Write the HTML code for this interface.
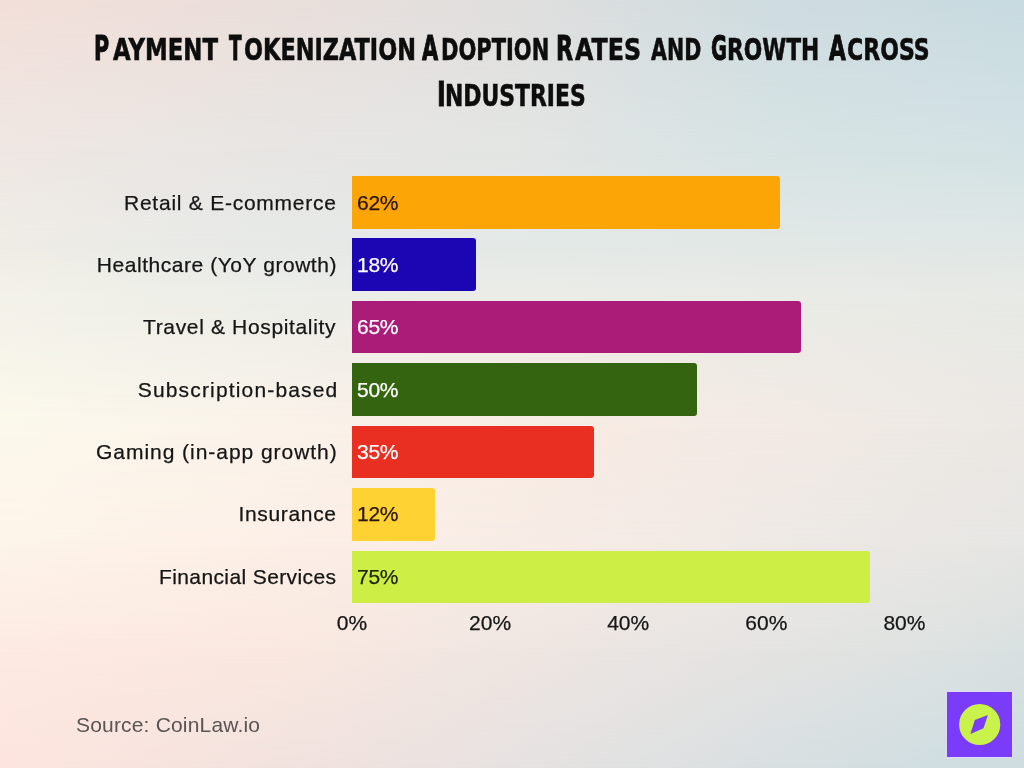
<!DOCTYPE html>
<html lang="en">
<head>
<meta charset="utf-8">
<title>Payment Tokenization Adoption Rates and Growth Across Industries</title>
<style>
  html, body { margin: 0; padding: 0; }
  body { width: 1024px; height: 768px; overflow: hidden; position: relative;
         font-family: "Liberation Sans", sans-serif; color: #111; }
  .bg, .bg div { position: absolute; left: 0; top: 0; width: 1024px; height: 768px; }
  .bg .r0 { background: linear-gradient(90deg, #f3dfd9 0px, #ebdfdb 256px, #e0dfde 512px, #cfdce0 768px, #c8dbe1 1024px); }
  .bg .r1 { background: linear-gradient(90deg, #efe7e3 0px, #e8e6e3 256px, #e3e5e3 512px, #d7e3e4 768px, #d3e2e4 1024px); -webkit-mask-image: linear-gradient(180deg, transparent 0px, #000 150px); mask-image: linear-gradient(180deg, transparent 0px, #000 150px); }
  .bg .r2 { background: linear-gradient(90deg, #efece6 0px, #e9eae6 176px, #e6e9e7 340px, #e3e9e7 512px, #e1e8e6 768px, #e0e7e6 1024px); -webkit-mask-image: linear-gradient(180deg, transparent 150px, #000 240px); mask-image: linear-gradient(180deg, transparent 150px, #000 240px); }
  .bg .r3 { background: linear-gradient(90deg, #f3f2e9 0px, #eeefe8 176px, #ecede8 340px, #ecece6 512px, #eaebe6 768px, #e8eae5 1024px); -webkit-mask-image: linear-gradient(180deg, transparent 240px, #000 300px); mask-image: linear-gradient(180deg, transparent 240px, #000 300px); }
  .bg .r4 { background: linear-gradient(90deg, #fcf8ec 0px, #fbf5eb 176px, #faf1e8 340px, #f9ede4 512px, #f7ebe3 600px, #f3eae5 768px, #ebe8e4 1024px); -webkit-mask-image: linear-gradient(180deg, transparent 300px, #000 430px); mask-image: linear-gradient(180deg, transparent 300px, #000 430px); }
  .bg .r5 { background: linear-gradient(90deg, #fdf4ea 0px, #fdf1e8 176px, #fbeee6 340px, #f5ebe5 600px, #eee9e5 768px, #e6e6e3 1024px); -webkit-mask-image: linear-gradient(180deg, transparent 430px, #000 546px); mask-image: linear-gradient(180deg, transparent 430px, #000 546px); }
  .bg .r6 { background: linear-gradient(90deg, #fdeae2 0px, #fae8e0 280px, #ebe5e2 610px, #dde2e1 940px, #d9e0e0 1024px); -webkit-mask-image: linear-gradient(180deg, transparent 546px, #000 650px); mask-image: linear-gradient(180deg, transparent 546px, #000 650px); }
  .bg .r7 { background: linear-gradient(90deg, #fde4de 0px, #f2e2de 280px, #e1e1e1 610px, #cfdde1 940px, #cedce0 1024px); -webkit-mask-image: linear-gradient(180deg, transparent 650px, #000 768px); mask-image: linear-gradient(180deg, transparent 650px, #000 768px); }

  .title { position: absolute; left: 0; top: 0; width: 1024px; height: 130px; margin: 0; font-weight: bold;
            font-family: "DejaVu Sans", "Liberation Sans", sans-serif; font-size: 34.29px; }
  .title span { position: absolute; white-space: nowrap; line-height: 40px; transform-origin: 0 0;
              color: #0d0d0d; }
  .title .C { font-size: 34.29px; -webkit-text-stroke: 1.0px #0d0d0d; }
  .title .S { font-size: 30.45px; text-transform: uppercase; -webkit-text-stroke: 0.6px #0d0d0d; }

  .bar { position: absolute; left: 352px; height: 52.6px; border-radius: 0 3px 3px 0; }
  .val { position: absolute; left: 357px; font-size: 21px; line-height: 24px; white-space: nowrap; letter-spacing: -0.3px; -webkit-text-stroke: 0.25px; }
  .lab { position: absolute; font-size: 21px; line-height: 24px; white-space: nowrap; color: #161616; -webkit-text-stroke: 0.25px #161616; }
  .tick { position: absolute; top: 611px; width: 80px; margin-left: -40px; text-align: center;
          font-size: 21px; line-height: 24px; color: #161616; -webkit-text-stroke: 0.25px #161616; }
  .source { position: absolute; left: 76px; top: 712.9px; font-size: 21px; line-height: 24px; color: #5a5452; letter-spacing: 0.18px; }
  .logo { position: absolute; left: 947px; top: 692px; width: 65px; height: 65px; box-shadow: 0 0 0 1px rgba(224,216,250,0.75); }
</style>
</head>
<body>
<div class="bg"><div class="r0"></div><div class="r1"></div><div class="r2"></div><div class="r3"></div><div class="r4"></div><div class="r5"></div><div class="r6"></div><div class="r7"></div></div>

<h1 class="title">
<span class="C" style="left:93.84px;top:27.80px;transform:scaleX(0.6047)">P</span><span class="S" style="left:112.79px;top:30.05px;transform:scaleX(0.7502)">ayment </span>
<span class="C" style="left:228.73px;top:27.80px;transform:scaleX(0.5375)">T</span><span class="S" style="left:243.68px;top:30.05px;transform:scaleX(0.7357)">okenization </span>
<span class="C" style="left:422.41px;top:27.80px;transform:scaleX(0.6109)">A</span><span class="S" style="left:440.57px;top:30.05px;transform:scaleX(0.6901)">doption </span>
<span class="C" style="left:556.33px;top:27.80px;transform:scaleX(0.6442)">R</span><span class="S" style="left:575.20px;top:30.05px;transform:scaleX(0.7807)">ates </span>
<span class="S" style="left:650.67px;top:30.05px;transform:scaleX(0.6758)">and </span>
<span class="C" style="left:710.99px;top:27.80px;transform:scaleX(0.5697)">G</span><span class="S" style="left:726.81px;top:30.05px;transform:scaleX(0.7145)">rowth </span>
<span class="C" style="left:828.72px;top:27.80px;transform:scaleX(0.6327)">A</span><span class="S" style="left:847.19px;top:30.05px;transform:scaleX(0.7243)">cross </span>
<span class="C" style="left:437.20px;top:74.10px;transform:scaleX(0.6897)">I</span><span class="S" style="left:445.30px;top:76.35px;transform:scaleX(0.7195)">ndustries </span>
</h1>

<div class="bar" style="top:176.00px;width:428.1px;background:#fca506"></div>
<div class="bar" style="top:238.45px;width:124.3px;background:#1c05b3"></div>
<div class="bar" style="top:300.90px;width:448.8px;background:#ab1c79"></div>
<div class="bar" style="top:363.35px;width:345.2px;background:#346410"></div>
<div class="bar" style="top:425.80px;width:241.7px;background:#e82f22"></div>
<div class="bar" style="top:488.25px;width:82.9px;background:#fed233"></div>
<div class="bar" style="top:550.70px;width:517.9px;background:#ccee45"></div>

<div class="lab" style="left:124.00px;top:190.70px;letter-spacing:0.756px">Retail &amp; E-commerce</div>
<div class="lab" style="left:96.75px;top:253.00px;letter-spacing:0.550px">Healthcare (YoY growth)</div>
<div class="lab" style="left:143.00px;top:315.30px;letter-spacing:0.651px">Travel &amp; Hospitality</div>
<div class="lab" style="left:137.75px;top:377.60px;letter-spacing:1.160px">Subscription-based</div>
<div class="lab" style="left:96.00px;top:439.90px;letter-spacing:0.960px">Gaming (in-app growth)</div>
<div class="lab" style="left:238.50px;top:502.20px;letter-spacing:0.659px">Insurance</div>
<div class="lab" style="left:159.00px;top:564.50px;letter-spacing:0.388px">Financial Services</div>

<div class="val" style="top:190.70px;color:#2a1606">62%</div>
<div class="val" style="top:253.00px;color:#fff">18%</div>
<div class="val" style="top:315.30px;color:#fff">65%</div>
<div class="val" style="top:377.60px;color:#fff">50%</div>
<div class="val" style="top:439.90px;color:#fff">35%</div>
<div class="val" style="top:502.20px;color:#2a1606">12%</div>
<div class="val" style="top:564.50px;color:#1a2406">75%</div>

<div class="tick" style="left:352.0px">0%</div>
<div class="tick" style="left:490.1px">20%</div>
<div class="tick" style="left:628.2px">40%</div>
<div class="tick" style="left:766.3px">60%</div>
<div class="tick" style="left:904.4px">80%</div>

<div class="source">Source: CoinLaw.io</div>

<svg class="logo" viewBox="0 0 65 65">
  <rect width="65" height="65" fill="#7a3cf8"/>
  <circle cx="32.7" cy="32.5" r="20.6" fill="#c9f24b"/>
  <path d="M40.9 23.1 L36.5 36.3 L23.4 41.9 L27.8 28.1 Z" fill="#7a3cf8"/>
</svg>
</body>
</html>
